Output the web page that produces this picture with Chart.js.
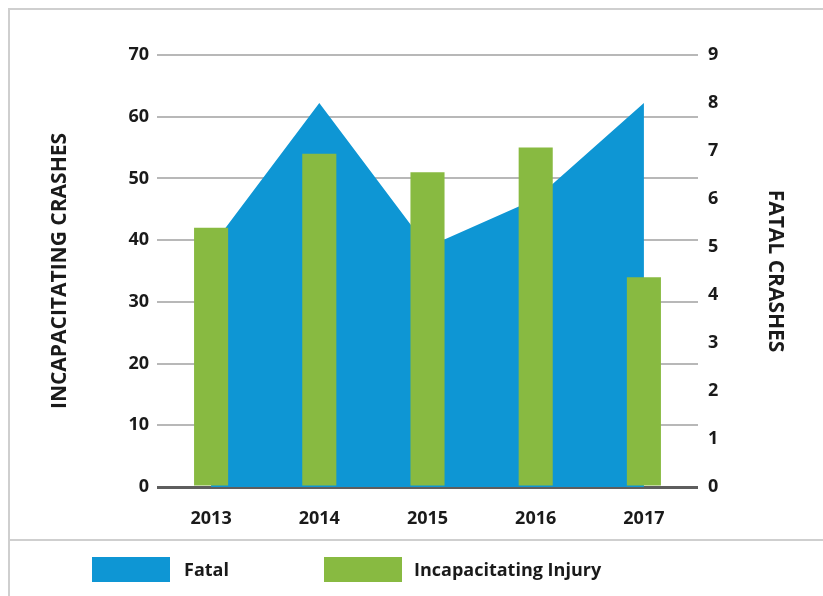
<!DOCTYPE html>
<html>
<head>
<meta charset="utf-8">
<script src="https://cdn.jsdelivr.net/npm/chart.js@4/dist/chart.umd.min.js"></script>
<style>
  html, body { margin: 0; padding: 0; background: #fff; }
  #wrap { position: relative; width: 823px; height: 596px; overflow: hidden; font-family: "Open Sans", sans-serif; }
  #c { position: absolute; left: 0; top: 0; }
  .frameTop { position: absolute; left: 8px; top: 8px; width: 830px; height: 0; border-top: 2px solid #cfcfcf; }
  .frameLeft { position: absolute; left: 8px; top: 8px; width: 0; height: 600px; border-left: 2px solid #cfcfcf; }
  .divider { position: absolute; left: 8px; top: 539px; width: 830px; height: 0; border-top: 2px solid #cfcfcf; }
  .sw { position: absolute; top: 557px; width: 78px; height: 25px; }
  .lt { position: absolute; top: 556px; font-size: 18px; font-weight: 700; color: #1a1a1a; line-height: 27px; white-space: nowrap; }
</style>
</head>
<body>
<div id="wrap">
  <canvas id="c" width="823" height="596"></canvas>
  <div class="frameTop"></div>
  <div class="frameLeft"></div>
  <div class="divider"></div>
  <div id="legend"></div>
</div>
<script>
const years = ["2013", "2014", "2015", "2016", "2017"];
const fatal = [5, 8, 5, 6, 8];
const incapacitating = [42, 54, 51, 55, 34];
const leftTicksMax = 70;
const rightTicksMax = 9;
const seriesNames = ["Fatal", "Incapacitating Injury"];
const blue = "#0E96D4";
const green = "#88BA41";

const legendItems = [
  { name: seriesNames[0], color: blue, x: 92, tx: 184 },
  { name: seriesNames[1], color: green, x: 324, tx: 414 }
];
const lg = document.getElementById("legend");
legendItems.forEach(it => {
  const s = document.createElement("div");
  s.className = "sw"; s.style.left = it.x + "px"; s.style.background = it.color;
  lg.appendChild(s);
  const t = document.createElement("div");
  t.className = "lt"; t.style.left = it.tx + "px"; t.textContent = it.name;
  lg.appendChild(t);
});

const tickFont = { family: "Open Sans", size: 18, weight: "700" };
const titleFont = { family: "Open Sans", size: 21, weight: "700" };

new Chart(document.getElementById("c"), {
  type: "bar",
  data: {
    labels: years,
    datasets: [
      {
        type: "bar",
        label: seriesNames[1],
        data: incapacitating,
        backgroundColor: green,
        yAxisID: "y",
        categoryPercentage: 1,
        barPercentage: 0.315,
        order: 0
      },
      {
        type: "line",
        label: seriesNames[0],
        data: fatal,
        backgroundColor: blue,
        borderWidth: 0,
        pointRadius: 0,
        tension: 0,
        fill: "origin",
        yAxisID: "y1",
        order: 1
      }
    ]
  },
  options: {
    responsive: false,
    animation: false,
    events: [],
    layout: { padding: { left: 47, right: 35, top: 55, bottom: 59 } },
    plugins: { legend: { display: false }, tooltip: { enabled: false } },
    scales: {
      x: {
        offset: true,
        grid: { display: false },
        border: { display: false },
        ticks: { font: tickFont, color: "#1a1a1a", padding: 13 },
        afterFit: s => { s.height = 50; }
      },
      y: {
        position: "left",
        min: 0, max: leftTicksMax,
        ticks: { stepSize: 10, font: tickFont, color: "#1a1a1a", padding: 8 },
        grid: {
          drawTicks: false,
          color: c => c.tick && c.tick.value === 0 ? "#5e5e5e" : "#b8b8b8",
          lineWidth: c => c.tick && c.tick.value === 0 ? 3 : 2
        },
        border: { display: false },
        title: { display: true, text: "INCAPACITATING CRASHES", font: titleFont, color: "#1a1a1a", padding: { top: 0, bottom: 0 } },
        afterFit: s => { s.width = 110; }
      },
      y1: {
        position: "right",
        min: 0, max: rightTicksMax,
        ticks: { stepSize: 1, font: tickFont, color: "#1a1a1a", padding: 10 },
        grid: { display: false, drawTicks: false },
        border: { display: false },
        title: { display: true, text: "FATAL CRASHES", font: titleFont, color: "#1a1a1a", padding: { top: 0, bottom: 0 } },
        afterFit: s => { s.width = 90; }
      }
    }
  }
});
</script>
</body>
</html>
